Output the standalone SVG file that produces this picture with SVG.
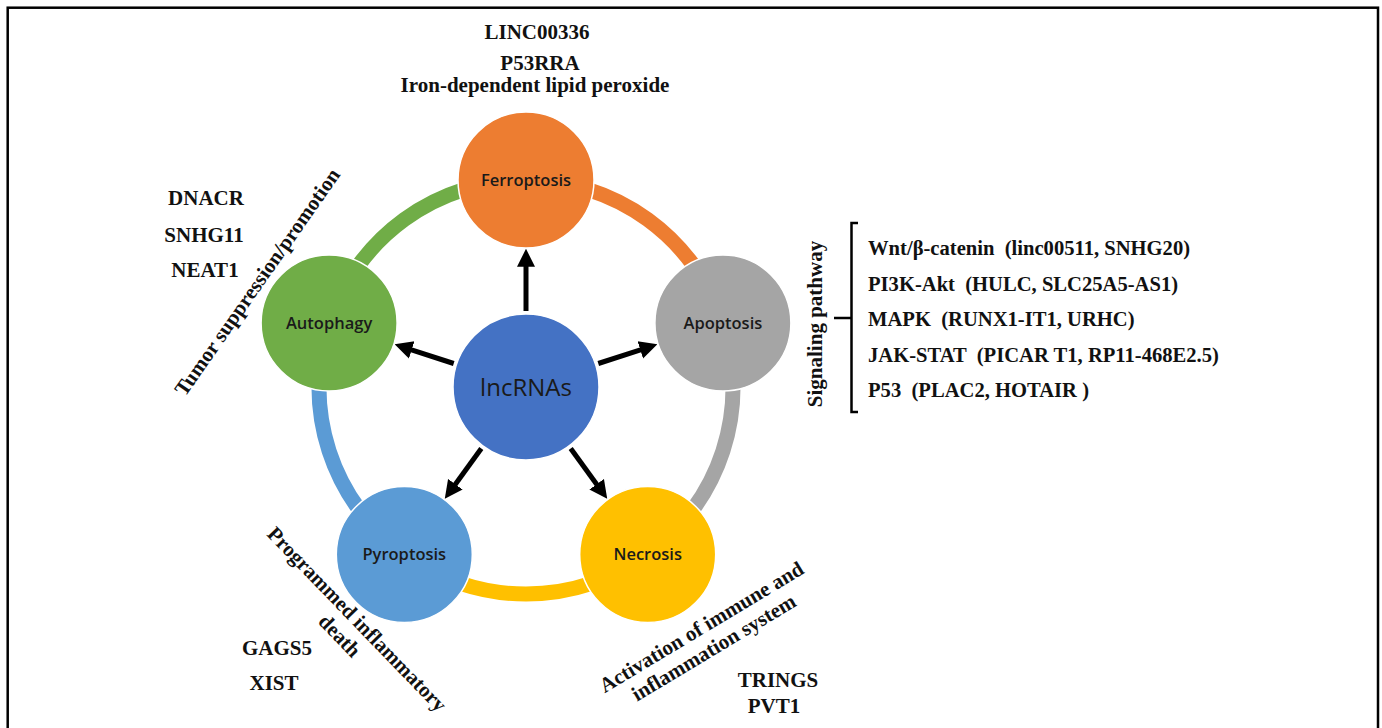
<svg xmlns="http://www.w3.org/2000/svg" width="1382" height="728" viewBox="0 0 1382 728">
<defs>
<style>
.lbl{font-family:"Liberation Serif","Times New Roman",serif;font-weight:bold;font-size:21px;fill:#111;white-space:pre}
.lst{font-size:20.6px}
.node text{font-family:"Open Sans","Noto Sans",sans-serif;font-size:16.5px;font-weight:600;fill:#1a1a1a;text-anchor:middle}
.node circle{stroke:#fff;stroke-width:1.5}
.ring{fill:none;stroke-width:15}
.arrow{stroke:#000;stroke-width:5;fill:none;marker-end:url(#ah)}
</style>
<marker id="ah" viewBox="0 0 10 10" refX="1" refY="5" markerWidth="18" markerHeight="20" markerUnits="userSpaceOnUse" orient="auto">
<path d="M0,0 L10,5 L0,10 Z" fill="#000"/>
</marker>
</defs>
<rect x="0" y="0" width="1382" height="728" fill="#fff"/>
<rect x="7.7" y="7.7" width="1370.3" height="760" fill="none" stroke="#000" stroke-width="2.5"/>

<g id="ring">
<path class="ring" stroke="#70AD47" d="M329.1,323 A207,207 0 0 1 526,180"/>
<path class="ring" stroke="#ED7D31" d="M526,180 A207,207 0 0 1 722.9,323"/>
<path class="ring" stroke="#A5A5A5" d="M722.9,323 A207,207 0 0 1 647.7,554.5"/>
<path class="ring" stroke="#FFC000" d="M647.7,554.5 A207,207 0 0 1 404.3,554.5"/>
<path class="ring" stroke="#5B9BD5" d="M404.3,554.5 A207,207 0 0 1 329.1,323"/>
</g>

<g id="connectors">
<line class="arrow" x1="526" y1="311" x2="526" y2="265"/>
<line class="arrow" x1="598.3" y1="363.5" x2="642.0" y2="349.3"/>
<line class="arrow" x1="453.7" y1="363.5" x2="410.0" y2="349.3"/>
<line class="arrow" x1="570.7" y1="448.5" x2="597.7" y2="485.7"/>
<line class="arrow" x1="481.3" y1="448.5" x2="454.3" y2="485.7"/>
</g>

<g id="ferroptosis" class="node"><circle cx="526" cy="180" r="68" fill="#ED7D31"/><text x="526" y="186">Ferroptosis</text></g>
<g id="apoptosis" class="node"><circle cx="722.9" cy="323" r="68" fill="#A5A5A5"/><text x="722.9" y="329">Apoptosis</text></g>
<g id="necrosis" class="node"><circle cx="647.7" cy="554.5" r="68" fill="#FFC000"/><text x="647.7" y="560">Necrosis</text></g>
<g id="pyroptosis" class="node"><circle cx="404.3" cy="554.5" r="68" fill="#5B9BD5"/><text x="404.3" y="560">Pyroptosis</text></g>
<g id="autophagy" class="node"><circle cx="329.1" cy="323" r="68" fill="#70AD47"/><text x="329.1" y="329">Autophagy</text></g>
<g id="lncrnas" class="node"><circle cx="526" cy="387" r="73" fill="#4472C4"/><text x="526" y="396" style="font-size:24px;font-weight:500">lncRNAs</text></g>

<g id="labels">
<text class="lbl" x="537" y="39" text-anchor="middle">LINC00336</text>
<text class="lbl" x="540" y="70" text-anchor="middle">P53RRA</text>
<text class="lbl" x="535" y="92" text-anchor="middle">Iron-dependent lipid peroxide</text>

<text class="lbl" x="206" y="205" text-anchor="middle">DNACR</text>
<text class="lbl" x="204" y="242" text-anchor="middle">SNHG11</text>
<text class="lbl" x="205" y="277" text-anchor="middle">NEAT1</text>
<text class="lbl" text-anchor="middle" transform="translate(263,286) rotate(-55)">Tumor suppression/promotion</text>

<text class="lbl" text-anchor="middle" transform="translate(352,624) rotate(46)"><tspan x="0" y="0">Programmed inflammatory</tspan><tspan x="0" y="24">death</tspan></text>
<text class="lbl" x="277" y="655" text-anchor="middle">GAGS5</text>
<text class="lbl" x="274" y="690" text-anchor="middle">XIST</text>

<text class="lbl" text-anchor="middle" transform="translate(705,633) rotate(-31)"><tspan x="0" y="0">Activation of immune and</tspan><tspan x="0" y="24">inflammation system</tspan></text>
<text class="lbl" x="778" y="687" text-anchor="middle">TRINGS</text>
<text class="lbl" x="774" y="713" text-anchor="middle">PVT1</text>

<text class="lbl" text-anchor="middle" transform="translate(822,324) rotate(-90)">Signaling pathway</text>
<path d="M858,223 L851.5,223 L851.5,412 L858,412 M851.5,318 L834,318" fill="none" stroke="#000" stroke-width="2.5"/>
<text class="lbl lst" x="868" y="255">Wnt/β-catenin  (linc00511, SNHG20)</text>
<text class="lbl lst" x="868" y="290.5">PI3K-Akt  (HULC, SLC25A5-AS1)</text>
<text class="lbl lst" x="868" y="326">MAPK  (RUNX1-IT1, URHC)</text>
<text class="lbl lst" x="868" y="361.5">JAK-STAT  (PICAR T1, RP11-468E2.5)</text>
<text class="lbl lst" x="868" y="397">P53  (PLAC2, HOTAIR )</text>
</g>
</svg>
